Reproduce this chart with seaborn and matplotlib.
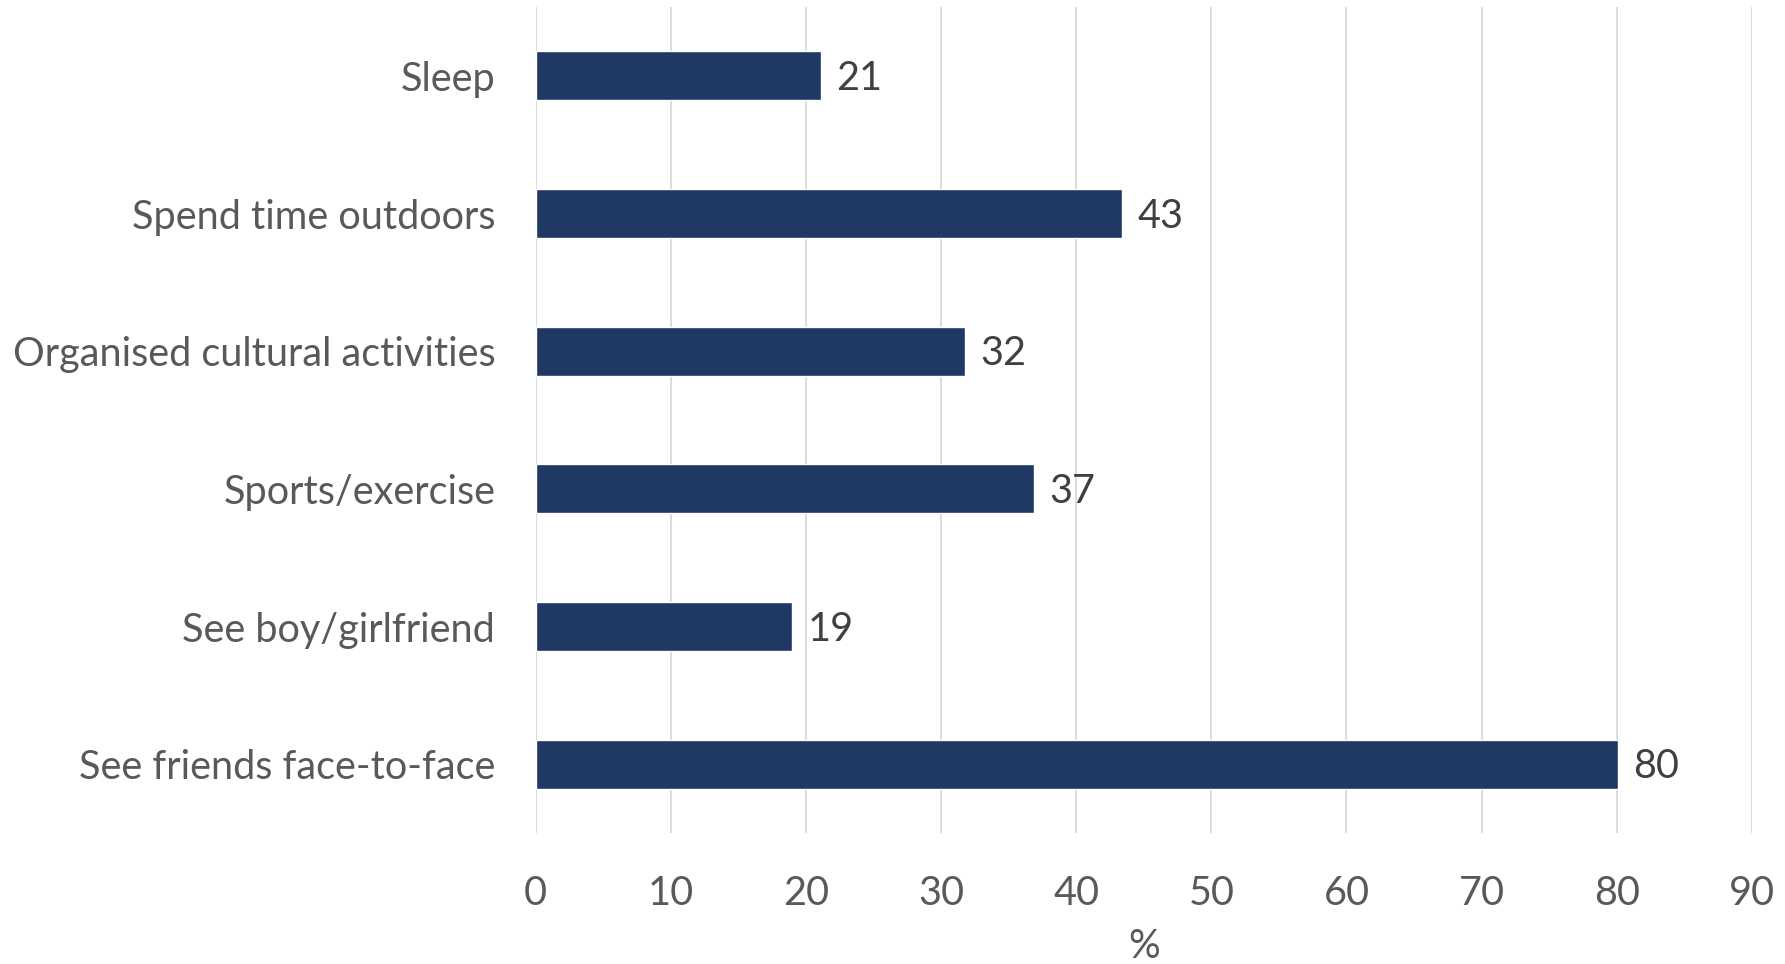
import matplotlib
matplotlib.use("Agg")
import matplotlib.pyplot as plt
import seaborn as sns
import pandas as pd

categories = ["Sleep", "Spend time outdoors", "Organised cultural activities",
              "Sports/exercise", "See boy/girlfriend", "See friends face-to-face"]
values = [21.1, 43.4, 31.8, 36.9, 19.0, 80.1]
x_ticks = [0, 10, 20, 30, 40, 50, 60, 70, 80, 90]
x_label = "%"

df = pd.DataFrame({"activity": categories, "pct": values})

sns.set_theme(style="white")
plt.rcParams["font.family"] = ["Lato", "DejaVu Sans"]

fig = plt.figure(figsize=(17.85, 9.64), dpi=100)
ax = fig.add_axes([0.300, 0.1359, 0.6815, 0.8568])

sns.barplot(data=df, x="pct", y="activity", color="#203864", width=0.356,
            saturation=1, ax=ax, orient="h")

ax.set_xlim(0, 90)
ax.set_ylim(5.5, -0.5)
ax.set_xticks(x_ticks)
ax.set_xticklabels([str(t) for t in x_ticks])
ax.grid(axis="x", color="#d9d9d9", linewidth=1.3)
ax.set_axisbelow(True)
for s in ax.spines.values():
    s.set_visible(False)
ax.tick_params(axis="both", length=0)
ax.tick_params(axis="y", labelsize=28.5, colors="#595959", pad=29)
ax.tick_params(axis="x", labelsize=28.5, colors="#595959", pad=30)
ax.set_ylabel("")
ax.set_xlabel(x_label, fontsize=28.5, color="#595959", labelpad=12)

for i, v in enumerate(values):
    ax.annotate(f"{v:.0f}", xy=(v, i), xytext=(11, -2), textcoords="offset points",
                va="center", ha="left", fontsize=28.5, color="#404040")

fig.savefig("out.png", dpi=100)
